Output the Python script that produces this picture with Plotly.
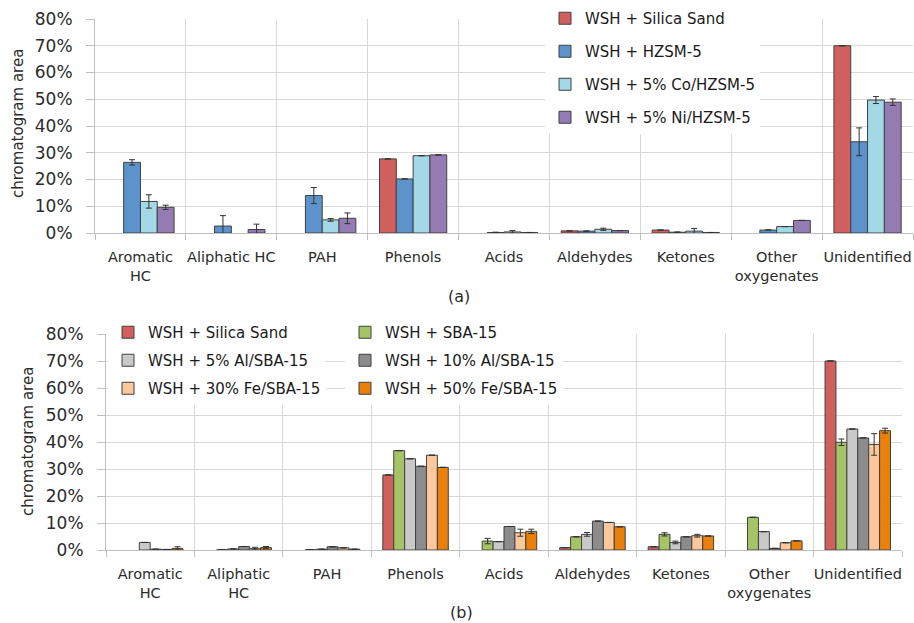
import plotly.graph_objects as go

# ---------------- data (a) ----------------
cats_a = ["Aromatic<br>HC", "Aliphatic HC", "PAH", "Phenols", "Acids",
          "Aldehydes", "Ketones", "Other<br>oxygenates", "Unidentified"]
names_a = ["WSH + Silica Sand", "WSH + HZSM-5", "WSH + 5% Co/HZSM-5", "WSH + 5% Ni/HZSM-5"]
silica_a = [None, None, None, 27.7, None, 0.8, 1.1, None, 70.0]
hzsm5_a = [26.4, 2.6, 14.0, 20.2, 0.2, 0.7, 0.3, 1.1, 34.1]
co_a = [11.8, None, 4.9, 28.9, 0.4, 1.4, 0.7, 2.4, 49.7]
ni_a = [9.6, 1.3, 5.5, 29.2, 0.2, 0.9, 0.2, 4.7, 48.9]
silica_a_err = [0, 0, 0, 0, 0, 0, 0, 0, 0]
hzsm5_a_err = [1.0, 3.9, 3.0, 0, 0.1, 0.1, 0.1, 0, 5.2]
co_a_err = [2.5, 0, 0.5, 0, 0.5, 0.4, 1.0, 0, 1.3]
ni_a_err = [0.8, 2.0, 2.0, 0, 0, 0, 0, 0, 1.2]

# ---------------- data (b) ----------------
cats_b = ["Aromatic<br>HC", "Aliphatic<br>HC", "PAH", "Phenols", "Acids",
          "Aldehydes", "Ketones", "Other<br>oxygenates", "Unidentified"]
names_b = ["WSH + Silica Sand", "WSH + SBA-15", "WSH + 5% Al/SBA-15",
           "WSH + 10% Al/SBA-15", "WSH + 30% Fe/SBA-15", "WSH + 50% Fe/SBA-15"]
silica_b = [None, None, None, 27.8, None, 0.9, 1.2, None, 70.0]
sba_b = [None, 0.1, 0.1, 36.8, 3.3, 4.9, 5.8, 12.1, 39.9]
al5_b = [2.8, 0.4, 0.3, 33.8, 3.1, 5.8, 2.8, 6.8, 44.8]
al10_b = [0.3, 1.3, 1.2, 31.0, 8.7, 10.7, 4.9, 0.6, 41.5]
fe30_b = [0.2, 0.5, 0.8, 35.1, 6.4, 10.2, 5.3, 2.7, 39.1]
fe50_b = [0.6, 0.9, 0.3, 30.6, 6.9, 8.6, 5.2, 3.4, 44.2]
silica_b_err = [0, 0, 0, 0, 0, 0, 0, 0, 0]
sba_b_err = [0, 0, 0, 0, 1.0, 0, 0.6, 0, 1.2]
al5_b_err = [0, 0, 0, 0, 0, 0.7, 0.5, 0, 0]
al10_b_err = [0, 0, 0, 0, 0, 0, 0, 0, 0]
fe30_b_err = [0, 0.5, 0, 0, 1.3, 0, 0.5, 0, 4.0]
fe50_b_err = [0.6, 0.4, 0, 0, 0.8, 0, 0, 0, 0.9]

ytick_vals = [0, 10, 20, 30, 40, 50, 60, 70, 80]
ytick_text = ["0%", "10%", "20%", "30%", "40%", "50%", "60%", "70%", "80%"]

colors_a = ["#D0605D", "#5B93CA", "#A3D8E6", "#957BB3"]
colors_b = ["#D0605D", "#A5C466", "#C9C9C9", "#8C8C8C", "#FBC79C", "#E8800A"]

series_a = [silica_a, hzsm5_a, co_a, ni_a]
errs_a = [silica_a_err, hzsm5_a_err, co_a_err, ni_a_err]
series_b = [silica_b, sba_b, al5_b, al10_b, fe30_b, fe50_b]
errs_b = [silica_b_err, sba_b_err, al5_b_err, al10_b_err, fe30_b_err, fe50_b_err]

FONT = "DejaVu Sans"
TXT = "#2b2b2b"
fig = go.Figure()

for i, (nm, vals, er, col) in enumerate(zip(names_a, series_a, errs_a, colors_a)):
    fig.add_trace(go.Bar(
        x=cats_a, y=vals, name=nm, marker=dict(color=col, line=dict(color="#404040", width=1)),
        error_y=dict(type="data", array=er, visible=True, color="#333333", thickness=1, width=3),
        xaxis="x", yaxis="y", legend="legend", legendgroup="a%d" % i))

for i, (nm, vals, er, col) in enumerate(zip(names_b, series_b, errs_b, colors_b)):
    fig.add_trace(go.Bar(
        x=cats_b, y=vals, name=nm, marker=dict(color=col, line=dict(color="#404040", width=1)),
        error_y=dict(type="data", array=er, visible=True, color="#333333", thickness=1, width=3),
        xaxis="x2", yaxis="y2", legend="legend2" if i % 2 == 0 else "legend3",
        legendgroup="b%d" % i))

W, H = 914, 623
xa = dict(type="category", tickson="boundaries", showgrid=True, gridcolor="#D9D9D9",
          showline=True, linecolor="#BFBFBF", ticks="outside", ticklen=6, tickcolor="#BFBFBF",
          tickangle=0, automargin=False, tickfont=dict(family=FONT, size=14.5, color=TXT),
          ticklabelstandoff=11)
ya = dict(range=[0, 80], tickmode="array", tickvals=ytick_vals, ticktext=ytick_text,
          showgrid=True, gridcolor="#D9D9D9", automargin=False,
          showline=True, linecolor="#BFBFBF", ticks="outside", ticklen=8, tickcolor="#BFBFBF",
          zeroline=False, tickfont=dict(family=FONT, size=17, color=TXT),
          ticklabelstandoff=10)

legend_common = dict(bgcolor="white", borderwidth=0, font=dict(family=FONT, size=15, color="#1a1a1a"),
                     xanchor="left", yanchor="top", traceorder="grouped")

fig.update_layout(
    width=W, height=H, margin=dict(l=0, r=0, t=0, b=0, autoexpand=False),
    paper_bgcolor="white", plot_bgcolor="white",
    barmode="group", bargap=0.26, bargroupgap=0,
    xaxis=dict(xa, domain=[95 / W, 913 / W], anchor="y"),
    yaxis=dict(ya, domain=[1 - 233 / H, 1 - 19 / H], anchor="x"),
    xaxis2=dict(xa, domain=[106 / W, 902 / W], anchor="y2"),
    yaxis2=dict(ya, domain=[1 - 550 / H, 1 - 334 / H], anchor="x2"),
    legend=dict(legend_common, x=545 / W, y=1 - 2 / H, tracegroupgap=10.5),
    legend2=dict(legend_common, x=108 / W, y=1 - 316 / H, tracegroupgap=5.5),
    legend3=dict(legend_common, x=345 / W, y=1 - 316 / H, tracegroupgap=5.5),
    annotations=[
        dict(text="chromatogram area", textangle=-90, x=18 / W, y=1 - 124 / H, xref="paper",
             yref="paper", xanchor="center", yanchor="middle", showarrow=False,
             font=dict(family=FONT, size=15, color=TXT)),
        dict(text="chromatogram area", textangle=-90, x=28 / W, y=1 - 442 / H, xref="paper",
             yref="paper", xanchor="center", yanchor="middle", showarrow=False,
             font=dict(family=FONT, size=15, color=TXT)),
        dict(text="(a)", x=459 / W, y=1 - 296 / H, xref="paper", yref="paper", showarrow=False,
             xanchor="center", yanchor="middle", font=dict(family=FONT, size=16, color=TXT)),
        dict(text="(b)", x=461 / W, y=1 - 612 / H, xref="paper", yref="paper", showarrow=False,
             xanchor="center", yanchor="middle", font=dict(family=FONT, size=16, color=TXT)),
    ],
)

fig.write_html("out.html", config={"displayModeBar": False},
               post_script="document.body.style.margin='0';document.body.style.padding='0';"
                           "document.body.style.overflow='hidden';")
